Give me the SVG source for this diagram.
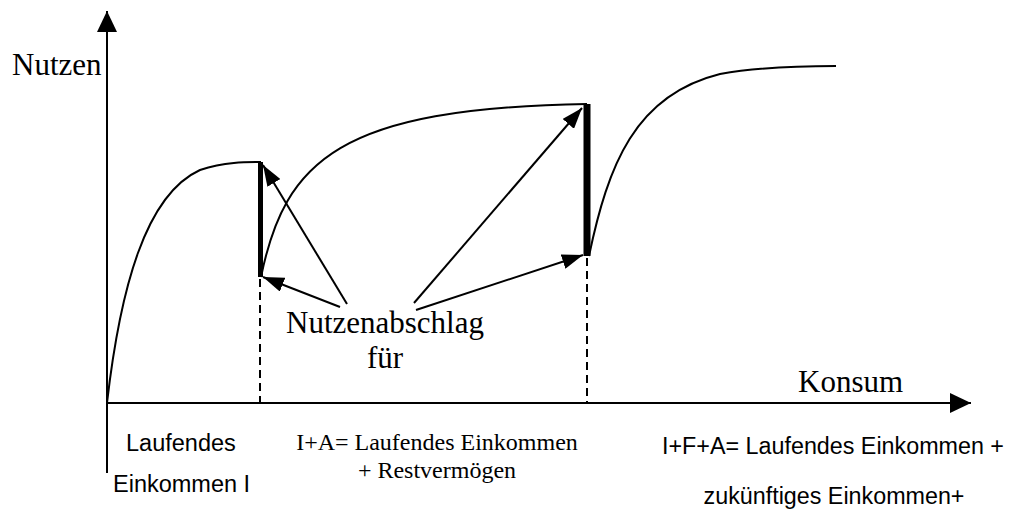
<svg xmlns="http://www.w3.org/2000/svg" width="1016" height="511" viewBox="0 0 1016 511">
<style>
.ln{fill:none;stroke:#000;stroke-width:2}
.bar{fill:none;stroke:#000}
.dash{fill:none;stroke:#000;stroke-width:2;stroke-dasharray:8,5}
.serif{font-family:"Liberation Serif","Times New Roman",serif;fill:#000}
.sans{font-family:"Liberation Sans",Arial,sans-serif;fill:#000}
</style>
<defs>
<marker id="arr" markerUnits="userSpaceOnUse" markerWidth="21" markerHeight="15" refX="21" refY="7.5" orient="auto" viewBox="0 0 21 15">
<path d="M0,0 L21,7.5 L0,15 z" fill="#000"/>
</marker>
<marker id="axarr" markerUnits="userSpaceOnUse" markerWidth="21" markerHeight="20" refX="21" refY="10" orient="auto" viewBox="0 0 21 20">
<path d="M0,0 L21,10 L0,20 z" fill="#000"/>
</marker>
</defs>
<g id="axes">
<line class="ln" x1="107" y1="473" x2="107" y2="11" marker-end="url(#axarr)"/>
<line class="ln" x1="107" y1="403" x2="971" y2="403" marker-end="url(#axarr)"/>
<text class="serif" x="12" y="75" font-size="31">Nutzen</text>
<text class="serif" x="798" y="392" font-size="31">Konsum</text>
</g>
<g id="curve1">
<path class="ln" d="M107,403 C120,290 145,195 200,170 C225,162 245,162 261,162"/>
<line class="bar" x1="260.5" y1="162" x2="260.5" y2="277" stroke-width="5"/>
<line class="dash" x1="260" y1="279" x2="260" y2="403"/>
</g>
<g id="curve2">
<path class="ln" d="M261,277 C285,160 340,108 587,104"/>
<line class="bar" x1="587" y1="104" x2="587" y2="256" stroke-width="7"/>
<line class="dash" x1="587" y1="258" x2="587" y2="403"/>
</g>
<g id="curve3">
<path class="ln" d="M589,256 C608,165 635,95 720,74 C760,67 800,66 836,66"/>
</g>
<g id="connectors">
<line class="ln" x1="347" y1="304" x2="263" y2="165" marker-end="url(#arr)"/>
<line class="ln" x1="340" y1="307" x2="263" y2="277" marker-end="url(#arr)"/>
<line class="ln" x1="414" y1="303" x2="582" y2="108" marker-end="url(#arr)"/>
<line class="ln" x1="416" y1="310" x2="583" y2="255" marker-end="url(#arr)"/>
</g>
<g id="label-abschlag">
<text class="serif" x="385" y="333" font-size="31" text-anchor="middle">Nutzenabschlag</text>
<text class="serif" x="385" y="368" font-size="31" text-anchor="middle">für</text>
</g>
<g id="label-I">
<text class="sans" x="126" y="451" font-size="23.5">Laufendes</text>
<text class="sans" x="113" y="492" font-size="23.5">Einkommen I</text>
</g>
<g id="label-IA">
<text class="serif" x="437" y="450" font-size="24" text-anchor="middle">I+A= Laufendes Einkommen</text>
<text class="serif" x="437" y="478" font-size="24" text-anchor="middle">+ Restvermögen</text>
</g>
<g id="label-IFA">
<text class="sans" x="833" y="454" font-size="23.3" text-anchor="middle">I+F+A= Laufendes Einkommen +</text>
<text class="sans" x="834" y="504" font-size="23.3" text-anchor="middle">zukünftiges Einkommen+</text>
</g>
</svg>
